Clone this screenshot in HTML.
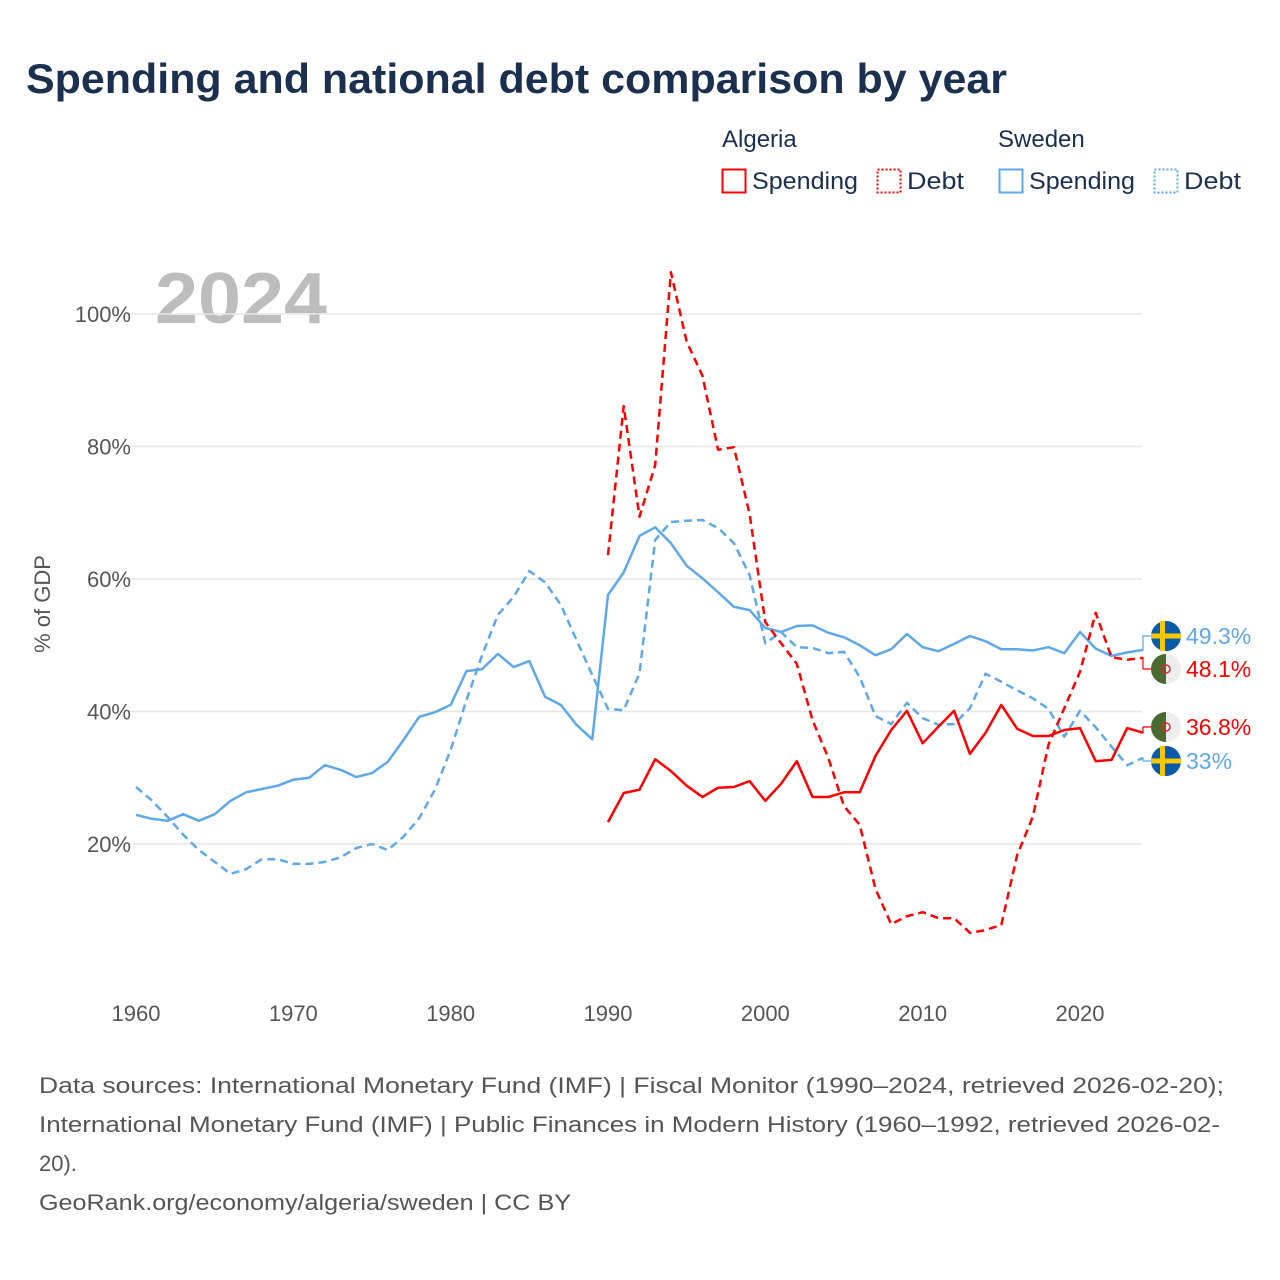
<!DOCTYPE html>
<html><head><meta charset="utf-8">
<style>
body{margin:0;background:#fff;font-family:"Liberation Sans",sans-serif;}
#wrap{position:relative;width:1280px;height:1280px;overflow:hidden;}
</style></head>
<body><div id="wrap">
<svg id="chart" width="1280" height="1280" xmlns="http://www.w3.org/2000/svg">
<text x="26" y="93" font-size="42" font-weight="bold" fill="#1b2f4e" textLength="981" lengthAdjust="spacingAndGlyphs">Spending and national debt comparison by year</text>
<g font-size="24" fill="#1b2f4e">
<text x="722" y="147">Algeria</text>
<text x="998" y="147">Sweden</text>
<g><rect x="722.5" y="169.5" width="23" height="23" fill="none" stroke="#f00" stroke-width="2"/><text x="752" y="189" textLength="106" lengthAdjust="spacingAndGlyphs">Spending</text></g>
<g><rect x="877.5" y="169.5" width="23" height="23" fill="none" stroke="#f00" stroke-width="2" stroke-dasharray="2,2"/><text x="907" y="189" textLength="57" lengthAdjust="spacingAndGlyphs">Debt</text></g>
<g><rect x="999.5" y="169.5" width="23" height="23" fill="none" stroke="#5ea8ea" stroke-width="2"/><text x="1029" y="189" textLength="106" lengthAdjust="spacingAndGlyphs">Spending</text></g>
<g><rect x="1154.5" y="169.5" width="23" height="23" fill="none" stroke="#5ea8ea" stroke-width="2" stroke-dasharray="2,2"/><text x="1184" y="189" textLength="57" lengthAdjust="spacingAndGlyphs">Debt</text></g>
</g>
<text x="155" y="323" font-size="72" font-weight="bold" fill="#bdbdbd" textLength="172" lengthAdjust="spacingAndGlyphs">2024</text>
<text transform="translate(50,604) rotate(-90)" text-anchor="middle" font-size="22" fill="#555">% of GDP</text>
<g id="grid"></g><g id="series"></g><g id="labels"></g>
<g font-size="22" fill="#555">
<text x="39" y="1093" textLength="1185" lengthAdjust="spacingAndGlyphs">Data sources: International Monetary Fund (IMF) | Fiscal Monitor (1990–2024, retrieved 2026-02-20);</text>
<text x="39" y="1132" textLength="1181" lengthAdjust="spacingAndGlyphs">International Monetary Fund (IMF) | Public Finances in Modern History (1960–1992, retrieved 2026-02-</text>
<text x="39" y="1171">20).</text>
<text x="39" y="1210" textLength="532" lengthAdjust="spacingAndGlyphs">GeoRank.org/economy/algeria/sweden | CC BY</text>
</g>
</svg>
</div>
<script>
const yTicks=[20,40,60,80,100];
const xTicks=[1960,1970,1980,1990,2000,2010,2020];
const sweSpendStart=1960;
const sweSpending=[24.4,23.8,23.5,24.5,23.5,24.5,26.5,27.8,28.3,28.8,29.7,30,31.9,31.2,30.1,30.7,32.4,35.7,39.2,39.9,41,46.1,46.4,48.7,46.7,47.6,42.2,41,38,35.8,57.6,61,66.5,67.8,65.4,62,60.1,58,55.8,55.3,52.6,52,52.9,53,51.9,51.2,50,48.5,49.4,51.7,49.7,49.1,50.2,51.4,50.6,49.4,49.4,49.2,49.7,48.8,52,49.5,48.4,48.9,49.3];
const sweDebt=[28.6,26.6,24.1,21.4,19.1,17.3,15.5,16.2,17.7,17.7,17,17,17.3,18,19.4,20,19.1,21.1,23.9,28.2,34.2,41.7,48.5,54.6,57.3,61.2,59.5,56.1,50.8,45.5,40.4,40.2,45.8,65.9,68.6,68.8,68.9,67.7,65.4,60.6,50.3,52,49.7,49.6,48.8,49,45.2,39.3,38.1,41.3,39,38,38.1,40.5,45.7,44.5,43.2,42,40.4,36.2,40.1,37.6,34.7,31.9,33];
const algStart=1990;
const algSpending=[23.3,27.7,28.2,32.8,31,28.8,27.1,28.5,28.6,29.5,26.5,29.1,32.5,27.1,27.1,27.8,27.8,33.3,37.2,40.1,35.2,37.7,40.1,33.6,36.8,41,37.4,36.3,36.3,37.2,37.5,32.5,32.7,37.5,36.8];
const algDebt=[63.6,86.1,69.4,77.2,106.3,95.8,90.7,79.5,79.9,69.8,53.5,50.3,47.2,38.7,33,25.7,22.9,13.2,7.9,9.1,9.7,8.8,8.8,6.6,7,7.8,18.3,24.1,35,40.5,46,54.9,48.2,47.8,48.1];

const NS="http://www.w3.org/2000/svg";
const X=y=>136+(y-1960)*(944/60);
const Y=v=>976.5-v*6.625;
function mk(tag,attrs,parent){const e=document.createElementNS(NS,tag);for(const k in attrs)e.setAttribute(k,attrs[k]);parent.appendChild(e);return e;}
const grid=document.getElementById('grid'),series=document.getElementById('series'),labels=document.getElementById('labels');
yTicks.forEach(t=>{
 const l=mk('line',{x1:128,x2:1142,y1:Y(t),y2:Y(t),stroke:'#e6e6e6','stroke-width':1.5},grid);
 
 
 const tx=mk('text',{x:131,y:Y(t)+8,'text-anchor':'end','font-size':22,fill:'#555'},grid);
 tx.textContent=t+'%';
 
 
});
xTicks.forEach(t=>{
 const tx=mk('text',{x:X(t),y:1021,'text-anchor':'middle','font-size':22,fill:'#555'},grid);
 tx.textContent=t;
 
 
});
function line(arr,start,color,dash,name){
 const d=arr.map((v,i)=>(i?'L':'M')+X(start+i).toFixed(1)+','+Y(v).toFixed(1)).join('');
 const p=mk('path',{d:d,fill:'none',stroke:color,'stroke-width':2.5,'stroke-linejoin':'round'},series);
 if(dash)p.setAttribute('stroke-dasharray','8,5');
 
 
}
line(sweDebt,sweSpendStart,'#5ea8ea',true,'sweden-debt-line');
line(sweSpending,sweSpendStart,'#5ea8ea',false,'sweden-spending-line');
line(algDebt,algStart,'#f00',true,'algeria-debt-line');
line(algSpending,algStart,'#f00',false,'algeria-spending-line');
function endLabel(arr,start,color,ly,flag,name){
 const v=arr[arr.length-1],x0=X(start+arr.length-1),y0=Y(v);
 mk('path',{d:`M${x0},${y0}H1143V${ly}H1152`,fill:'none',stroke:color,'stroke-width':1.2},labels);
 const g=mk('g',{},labels);
 
 
 const cx=1166;
 if(flag==='se'){
  mk('circle',{cx:cx,cy:ly,r:15,fill:'#0a5aaa'},g);
  mk('rect',{x:cx-6,y:ly-15,width:5,height:30,fill:'#f5c800'},g);
  mk('rect',{x:cx-15,y:ly-2.5,width:30,height:5,fill:'#f5c800'},g);
 }else{
  mk('circle',{cx:cx,cy:ly,r:15,fill:'#eee'},g);
  mk('path',{d:`M${cx},${ly-15}A15,15 0 0 0 ${cx},${ly+15}Z`,fill:'#4a6b30'},g);
  mk('circle',{cx:cx,cy:ly,r:4,fill:'none',stroke:'#e0262e','stroke-width':1.5},g);
 }
 const t=mk('text',{x:1186,y:ly+8,'font-size':23,fill:color},g);
 t.textContent=(+v.toFixed(1))+'%';
}
endLabel(sweSpending,sweSpendStart,'#5ea8ea',636,'se','label-sweden-spending');
endLabel(algDebt,algStart,'#f00',669,'dz','label-algeria-debt');
endLabel(algSpending,algStart,'#f00',727,'dz','label-algeria-spending');
endLabel(sweDebt,sweSpendStart,'#5ea8ea',761,'se','label-sweden-debt');
</script>
</body></html>
